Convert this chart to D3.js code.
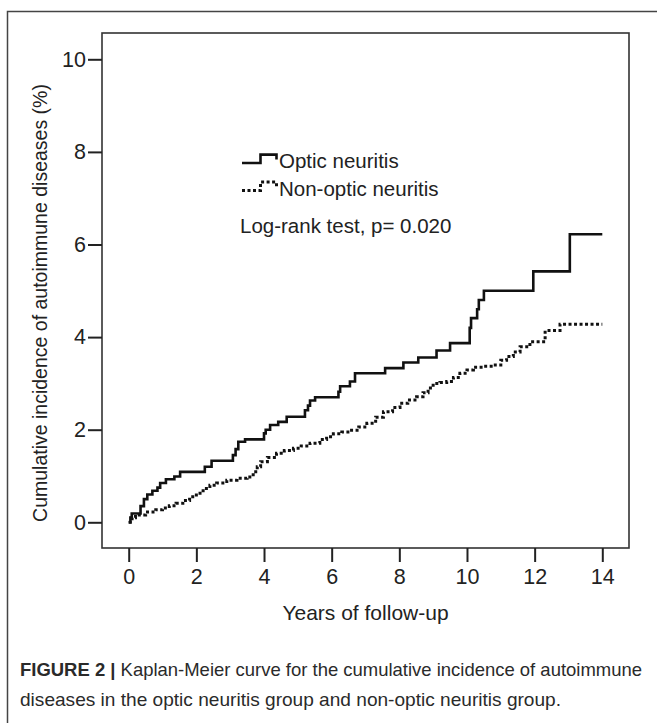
<!DOCTYPE html>
<html>
<head>
<meta charset="utf-8">
<script src="https://cdn.jsdelivr.net/npm/d3@7"></script>
<style>
  html, body { margin: 0; padding: 0; background: #fff; }
  svg { display: block; }
  text { font-family: "Liberation Sans", Arial, Helvetica, sans-serif; }
</style>
</head>
<body>
<script>
// ---- data ----
const xTicks = [0, 2, 4, 6, 8, 10, 12, 14];
const yTicks = [0, 2, 4, 6, 8, 10];
const seriesNames = ["Optic neuritis", "Non-optic neuritis"];
const testLabel = "Log-rank test, p= 0.020";
const xTitle = "Years of follow-up";
const yTitle = "Cumulative incidence of autoimmune diseases (%)";

const opticTimes  = [0, 0.05, 0.09, 0.35, 0.45, 0.55, 0.70, 0.85, 0.93, 1.10, 1.35, 1.52, 2.25, 2.45, 3.08, 3.16, 3.24, 3.44, 4.00, 4.05, 4.18, 4.42, 4.67, 5.21, 5.30, 5.36, 5.51, 6.20, 6.25, 6.54, 6.69, 7.58, 8.12, 8.56, 9.10, 9.50, 10.08, 10.12, 10.30, 10.35, 10.50, 11.96, 13.04, 14.0];
const opticValues = [0, 0.10, 0.19, 0.35, 0.50, 0.60, 0.68, 0.75, 0.85, 0.93, 0.99, 1.09, 1.20, 1.33, 1.45, 1.58, 1.74, 1.79, 1.92, 2.00, 2.10, 2.17, 2.28, 2.42, 2.52, 2.63, 2.70, 2.82, 2.94, 3.04, 3.22, 3.33, 3.45, 3.56, 3.71, 3.87, 4.20, 4.41, 4.60, 4.80, 5.00, 5.42, 6.22, 6.22];

const nonOpticTimes  = [0, 0.10, 0.20, 0.50, 0.80, 1.00, 1.20, 1.40, 1.60, 1.80, 2.00, 2.20, 2.40, 2.60, 2.90, 3.20, 3.50, 3.68, 3.80, 3.90, 4.10, 4.37, 4.60, 4.87, 5.10, 5.36, 5.65, 5.85, 6.05, 6.30, 6.54, 6.80, 7.04, 7.30, 7.53, 7.80, 8.02, 8.25, 8.51, 8.70, 8.85, 9.00, 9.20, 9.40, 9.60, 9.79, 10.00, 10.19, 10.50, 10.78, 11.00, 11.17, 11.37, 11.57, 11.86, 12.31, 12.75, 14.0];
const nonOpticValues = [0, 0.10, 0.16, 0.22, 0.27, 0.31, 0.36, 0.41, 0.47, 0.55, 0.63, 0.73, 0.80, 0.85, 0.91, 0.95, 0.98, 1.09, 1.20, 1.31, 1.40, 1.49, 1.55, 1.60, 1.65, 1.71, 1.79, 1.85, 1.91, 1.95, 1.99, 2.06, 2.14, 2.27, 2.39, 2.48, 2.57, 2.64, 2.71, 2.80, 2.90, 3.00, 3.02, 3.04, 3.13, 3.22, 3.29, 3.35, 3.37, 3.40, 3.50, 3.58, 3.68, 3.79, 3.90, 4.14, 4.28, 4.28];

const captionBold = "FIGURE 2 |";
const captionLine1 = "Kaplan-Meier curve for the cumulative incidence of autoimmune";
const captionLine2 = "diseases in the optic neuritis group and non-optic neuritis group.";

// ---- layout ----
const W = 657, H = 723;
const box = { left: 102, right: 629, top: 33, bottom: 548 };

const svg = d3.select("body").append("svg").attr("width", W).attr("height", H);

// outer figure frame (right/bottom cut off)
svg.append("rect").attr("x", 7.5).attr("y", 11.5).attr("width", 700).attr("height", 800)
  .attr("fill", "none").attr("stroke", "#444").attr("stroke-width", 1.5);

const x = d3.scaleLinear().domain([0, 14]).range([128.7, 602.3]);
const y = d3.scaleLinear().domain([0, 10]).range([522.3, 59.3]);

// plot box
svg.append("rect").attr("x", box.left).attr("y", box.top)
  .attr("width", box.right - box.left).attr("height", box.bottom - box.top)
  .attr("fill", "none").attr("stroke", "#333").attr("stroke-width", 1.6);

// axes
const gx = svg.append("g").attr("transform", `translate(0,${box.bottom})`)
  .call(d3.axisBottom(x).tickValues(xTicks).tickSize(14).tickPadding(7).tickFormat(d3.format("d")));
const gy = svg.append("g").attr("transform", `translate(${box.left},0)`)
  .call(d3.axisLeft(y).tickValues(yTicks).tickSize(14).tickPadding(2).tickFormat(d3.format("d")));
[gx, gy].forEach(g => {
  g.select(".domain").remove();
  g.selectAll(".tick line").attr("stroke", "#222").attr("stroke-width", 2);
  g.selectAll(".tick text").attr("fill", "#222").style("font-size", "21.5px")
    .style("font-family", "'Liberation Sans', Arial, sans-serif");
});

// curves
const line = d3.line().x(d => x(d[0])).y(d => y(d[1])).curve(d3.curveStepAfter);
const opticData = opticTimes.map((t, i) => [t, opticValues[i]]);
const nonOpticData = nonOpticTimes.map((t, i) => [t, nonOpticValues[i]]);

svg.append("path").datum(nonOpticData).attr("d", line)
  .attr("fill", "none").attr("stroke", "#111").attr("stroke-width", 3)
  .attr("stroke-dasharray", "3,2.5");
svg.append("path").datum(opticData).attr("d", line)
  .attr("fill", "none").attr("stroke", "#111").attr("stroke-width", 2.6)
  .attr("stroke-linejoin", "miter");

// legend
const legX = 279;
const legBase = [168, 195.5];
const fs = 20.5;
function sym(b) {
  return `M242,${b - 5} H260.5 V${b - 13.4} H276.5 V${b - 8.5}`;
}
svg.append("path").attr("d", sym(legBase[0])).attr("fill", "none")
  .attr("stroke", "#111").attr("stroke-width", 2.6);
svg.append("path").attr("d", sym(legBase[1])).attr("fill", "none")
  .attr("stroke", "#111").attr("stroke-width", 3).attr("stroke-dasharray", "3,2.5");
seriesNames.forEach((n, i) => {
  svg.append("text").attr("x", legX).attr("y", legBase[i]).attr("fill", "#222")
    .style("font-size", fs + "px").text(n);
});
svg.append("text").attr("x", 240).attr("y", 233).attr("fill", "#222")
  .style("font-size", fs + "px").text(testLabel);

// axis titles
svg.append("text").attr("x", (box.left + box.right) / 2).attr("y", 620)
  .attr("text-anchor", "middle").attr("fill", "#222").style("font-size", "21px").text(xTitle);
svg.append("text").attr("transform", "translate(47,303) rotate(-90)")
  .attr("text-anchor", "middle").attr("fill", "#222").style("font-size", "19.5px").text(yTitle);

// caption
const cap1 = svg.append("text").attr("x", 20).attr("y", 676).attr("fill", "#2a2a2a")
  .style("font-size", "18.5px").attr("textLength", 622).attr("lengthAdjust", "spacingAndGlyphs");
cap1.append("tspan").style("font-weight", "bold").text(captionBold);
cap1.append("tspan").text(" " + captionLine1);
svg.append("text").attr("x", 20).attr("y", 706).attr("fill", "#2a2a2a")
  .style("font-size", "18.5px").attr("textLength", 541).attr("lengthAdjust", "spacingAndGlyphs")
  .text(captionLine2);
</script>
</body>
</html>
